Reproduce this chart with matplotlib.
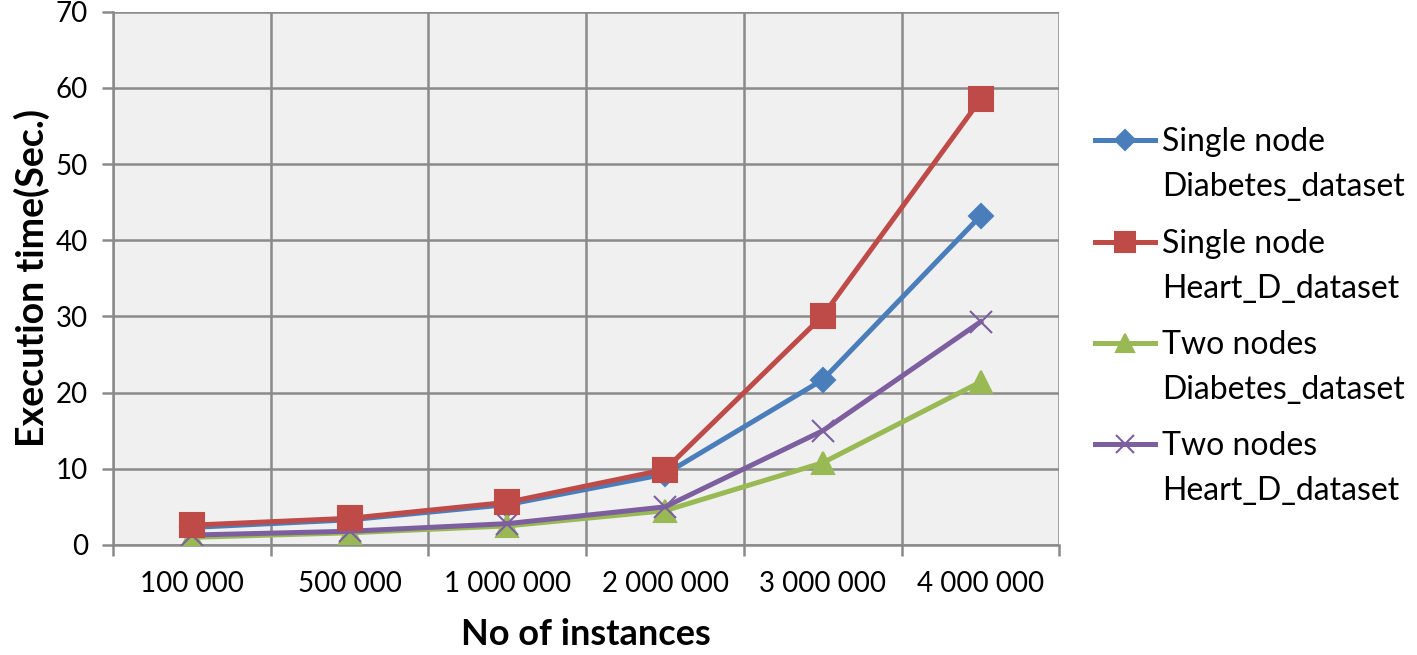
import numpy as np
import matplotlib.pyplot as plt
from matplotlib.lines import Line2D

# datos
categorias = ["100 000", "500 000", "1 000 000", "2 000 000", "3 000 000", "4 000 000"]
single_diabetes = [2.3, 3.3, 5.3, 9.3, 21.7, 43.2]
single_heart = [2.6, 3.5, 5.6, 9.9, 30.1, 58.5]
two_diabetes = [1.0, 1.6, 2.5, 4.5, 10.8, 21.4]
two_heart = [1.3, 1.8, 2.8, 5.0, 15.0, 29.3]
etiquetas = ["Single node\nDiabetes_dataset", "Single node\nHeart_D_dataset",
             "Two nodes\nDiabetes_dataset", "Two nodes\nHeart_D_dataset"]

plt.rcParams['font.family'] = ['Lato', 'DejaVu Sans']

fig = plt.figure(figsize=(14.17, 6.55), dpi=100)
ax = fig.add_axes([0.0797, 0.168, 0.668, 0.814])

x = np.arange(len(categorias))
ax.set_facecolor('#f0f0f0')

series = [
    (single_diabetes, '#4a7ebb', 'D', 12, 3),
    (single_heart, '#be4b48', 's', 17, 4),
    (two_diabetes, '#98b954', '^', 16, 3),
    (two_heart, '#7d5fa0', 'x', 16, 3),
]
for vals, col, mk, ms, z in series:
    ax.plot(x, vals, color=col, lw=3.6, marker=mk, ms=ms, mew=1.5, zorder=z)

ax.set_xlim(-0.5, len(categorias) - 0.5)
ax.set_ylim(0, 70)
ax.set_yticks(np.arange(0, 71, 10))
ax.set_xticks(x)
ax.set_xticklabels(categorias)
ax.set_xticks(np.arange(-0.5, len(categorias)), minor=True)

ax.grid(True, which='major', axis='y', color='#8a8a8a', lw=1.8)
ax.grid(True, which='minor', axis='x', color='#8a8a8a', lw=1.8)
ax.set_axisbelow(True)

for s in ['top', 'right']:
    ax.spines[s].set_visible(False)
for s in ['left', 'bottom']:
    ax.spines[s].set_color('#8a8a8a')
    ax.spines[s].set_linewidth(1.8)

ax.tick_params(axis='y', which='major', length=8, width=1.8, color='#8a8a8a', labelsize=20, pad=10)
ax.tick_params(axis='x', which='major', length=0, labelsize=20, pad=19)
ax.tick_params(axis='x', which='minor', length=8, width=1.8, color='#8a8a8a')

ax.set_ylabel("Execution time(Sec.)", fontsize=27, fontweight='bold', labelpad=4)
ax.set_xlabel("No of instances", fontsize=26, fontweight='bold', labelpad=15)

# leyenda manual (marcador alineado con la primera línea del texto, como en Excel)
W, H = 1417, 655
y_ent = [140, 242, 343, 444]
for (vals, col, mk, ms, z), lab, yp in zip(series, etiquetas, y_ent):
    yf = 1 - yp / H
    fig.add_artist(Line2D([1095 / W, 1155 / W], [yf, yf], color=col, lw=3.6,
                          transform=fig.transFigure))
    fig.add_artist(Line2D([1125 / W], [yf], color=col, marker=mk, ms=ms * 0.85, mew=1.5,
                          transform=fig.transFigure))
    fig.text(1162 / W, 1 - (yp - 13) / H, lab, fontsize=23, va='top', ha='left',
             linespacing=1.62)

fig.savefig("out.png", dpi=100)
